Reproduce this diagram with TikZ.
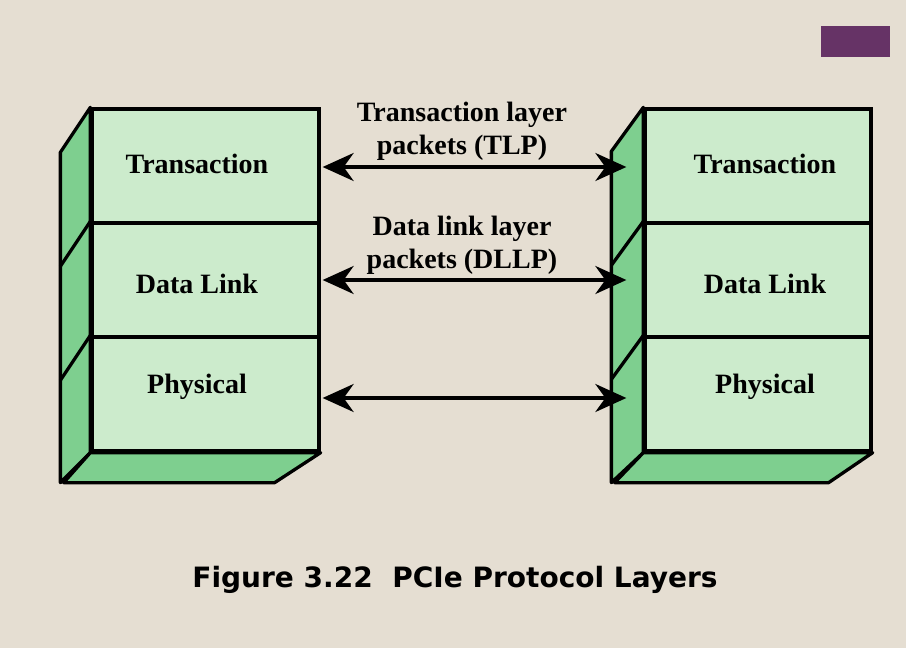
\documentclass[tikz,border=0pt]{standalone}
\usepackage{fontspec}
\setmainfont{Liberation Serif}
\newfontfamily\capfont{DejaVu Sans}
\usetikzlibrary{arrows.meta}
\definecolor{bgbeige}{RGB}{229,222,210}
\definecolor{facegreen}{RGB}{204,235,204}
\definecolor{sidegreen}{RGB}{126,207,143}
\definecolor{plum}{RGB}{102,51,102}
\begin{document}
\begin{tikzpicture}[x=1pt,y=-1pt,line width=3.3pt]
        \tikzstyle{layer}=[rectangle,draw=black,fill=facegreen,minimum width=227pt,minimum height=114pt,inner sep=0pt]
        \tikzstyle{rlayer}=[layer,minimum width=226pt]
        \tikzstyle{side}=[draw=black,fill=sidegreen,line join=round]
        \tikzstyle{word}=[font=\fontsize{28}{33}\selectfont\bfseries,inner sep=0pt,anchor=base]
        \tikzstyle{note}=[font=\fontsize{28}{33}\selectfont\bfseries,inner sep=0pt,align=center]
        \tikzstyle{link}=[draw,{Stealth[length=31pt,width=28pt,inset=10pt]}-{Stealth[length=31pt,width=28pt,inset=10pt]}]
        \fill[bgbeige] (0,0) rectangle (906,648);
        \useasboundingbox (0,0) rectangle (906,648);
        \fill[plum] (821,26) rectangle (890,57);
       \begin{scope}
         \node [layer] (lt) at (205.5,166) {};
         \node [layer] (ld) at (205.5,280) {};
         \node [layer] (lp) at (205.5,394) {};
         \draw[side] (lt.north west) -- ++(-30,45) -- ([shift={(-30,30)}]lp.south west) -- (lp.south west) -- cycle;
         \draw (ld.north west) -- ++(-30,45);
         \draw (lp.north west) -- ++(-30,45);
         \draw[side] (lp.south west) -- (lp.south east) -- ++(-46,30) -- ++(-211,0) -- cycle;
         \node [word] (ltx) at (197,173) {Transaction};
         \node [word] (ldx) at (197,293) {Data Link};
         \node [word] (lpx) at (197,393) {Physical};
        \end{scope}
       \begin{scope}
         \node [rlayer] (rt) at (758,166) {};
         \node [rlayer] (rd) at (758,280) {};
         \node [rlayer] (rp) at (758,394) {};
         \draw[side] (rt.north west) -- ++(-32,44) -- ([shift={(-32,30)}]rp.south west) -- (rp.south west) -- cycle;
         \draw (rd.north west) -- ++(-32,44);
         \draw (rp.north west) -- ++(-32,44);
         \draw[side] (rp.south west) -- (rp.south east) -- ++(-44,30) -- ++(-214,0) -- cycle;
         \node [word] (rtx) at (765,173) {Transaction};
         \node [word] (rdx) at (765,293) {Data Link};
         \node [word] (rpx) at (765,393) {Physical};
        \end{scope}
         \path[link] ([xshift=2pt,yshift=-1pt]lt.east) -- ([xshift=-17pt,yshift=-1pt]rt.west);
         \path[link] ([xshift=2pt]ld.east) -- ([xshift=-17pt]rd.west);
         \path[link] ([xshift=2pt,yshift=-4pt]lp.east) -- ([xshift=-17pt,yshift=-4pt]rp.west);
         \node [note] (tlp) at (462,131) {Transaction layer\\packets (TLP)};
         \node [note] (dllp) at (462,245) {Data link layer\\packets (DLLP)};
         \node [font=\capfont\bfseries\fontsize{28}{32}\selectfont,inner sep=0pt,anchor=base] (cap) at (455,587) {Figure 3.22\hspace{0.7em}PCIe Protocol Layers};
      \end{tikzpicture}
\end{document}
